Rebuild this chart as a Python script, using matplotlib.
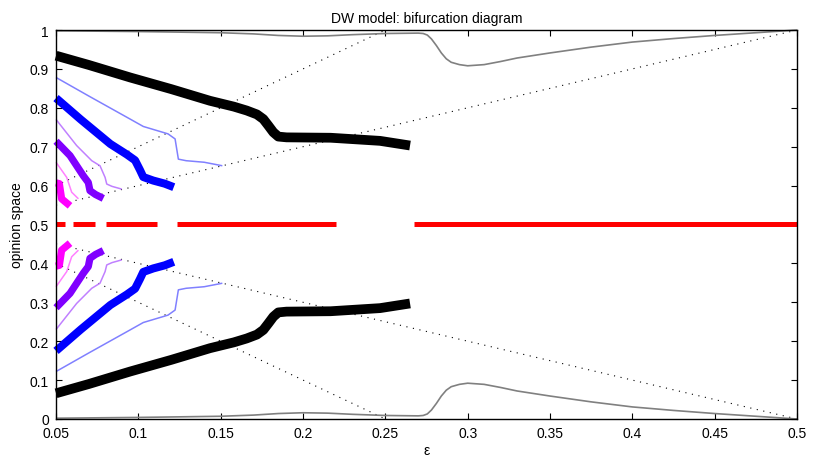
import matplotlib
matplotlib.use("Agg")
import matplotlib.pyplot as plt

plt.rcParams['font.family'] = ['Liberation Sans', 'DejaVu Sans']

# stable branches: (epsilon, opinion) pairs, upper and lower halves
black_eps = [0.05, 0.07, 0.095, 0.12, 0.1435, 0.158, 0.1658, 0.172, 0.1759, 0.179, 0.182, 0.185, 0.19, 0.2168, 0.2468, 0.265]
black_up = [0.934, 0.910, 0.878, 0.848, 0.818, 0.803, 0.793, 0.783, 0.771, 0.754, 0.737, 0.726, 0.724, 0.723, 0.715, 0.703]
black_lo = [0.066, 0.090, 0.122, 0.152, 0.182, 0.197, 0.207, 0.217, 0.229, 0.246, 0.263, 0.274, 0.276, 0.277, 0.285, 0.297]

blue_eps = [0.05, 0.065, 0.083, 0.093, 0.098, 0.101, 0.103, 0.109, 0.116, 0.1215]
blue_up = [0.825, 0.770, 0.707, 0.680, 0.665, 0.640, 0.622, 0.613, 0.605, 0.596]
blue_lo = [0.175, 0.230, 0.293, 0.320, 0.335, 0.360, 0.378, 0.387, 0.395, 0.404]

ltblue_eps = [0.05, 0.07, 0.095, 0.103, 0.118, 0.1223, 0.1243, 0.129, 0.14, 0.151]
ltblue_up = [0.878, 0.830, 0.771, 0.752, 0.733, 0.720, 0.668, 0.664, 0.660, 0.651]
ltblue_lo = [0.122, 0.170, 0.229, 0.248, 0.267, 0.280, 0.332, 0.336, 0.340, 0.349]

purple_eps = [0.05, 0.0585, 0.0666, 0.0696, 0.0706, 0.074, 0.0787]
purple_up = [0.714, 0.677, 0.625, 0.608, 0.587, 0.577, 0.567]
purple_lo = [0.286, 0.323, 0.375, 0.392, 0.413, 0.423, 0.433]

ltpurple_eps = [0.05, 0.0625, 0.0717, 0.0767, 0.0798, 0.0808, 0.084, 0.0899]
ltpurple_up = [0.770, 0.703, 0.664, 0.651, 0.621, 0.604, 0.598, 0.591]
ltpurple_lo = [0.230, 0.297, 0.336, 0.349, 0.379, 0.396, 0.402, 0.409]

magenta_eps = [0.05, 0.052, 0.0534, 0.0585]
magenta_up = [0.607, 0.605, 0.566, 0.548]
magenta_lo = [0.393, 0.395, 0.434, 0.452]

ltmagenta_eps = [0.05, 0.0565, 0.0595, 0.0636]
ltmagenta_up = [0.660, 0.621, 0.583, 0.566]
ltmagenta_lo = [0.340, 0.379, 0.417, 0.434]

# outermost (minor) clusters
gray_eps = [0.05, 0.1, 0.15, 0.17, 0.185, 0.2, 0.215, 0.23, 0.25, 0.27, 0.273,
            0.2755, 0.278, 0.281, 0.284, 0.287, 0.29, 0.295, 0.3, 0.31, 0.32,
            0.33, 0.35, 0.375, 0.4, 0.425, 0.45, 0.475, 0.5]
gray_up = [0.998, 0.996, 0.993, 0.990, 0.986, 0.984, 0.985, 0.988, 0.991, 0.992, 0.991,
           0.987, 0.977, 0.960, 0.941, 0.926, 0.917, 0.911, 0.908, 0.911, 0.919,
           0.928, 0.941, 0.956, 0.969, 0.978, 0.986, 0.993, 1.0]
gray_lo = [0.002, 0.004, 0.007, 0.010, 0.014, 0.016, 0.015, 0.012, 0.009, 0.008, 0.009,
           0.013, 0.023, 0.040, 0.059, 0.074, 0.083, 0.089, 0.092, 0.089, 0.081,
           0.072, 0.059, 0.044, 0.031, 0.022, 0.014, 0.007, 0.0]

# central cluster, shown only where it is stable
center_start = [0.05, 0.0603, 0.0804, 0.1235, 0.2674]
center_end = [0.0555, 0.0737, 0.1113, 0.220, 0.5]
center_y = 0.5

# bifurcation boundaries 0.5 +/- eps and 0.5 +/- 2 eps
bound1_eps = [0.05, 0.5]
bound1_up = [0.55, 1.0]
bound1_lo = [0.45, 0.0]
bound2_eps = [0.05, 0.25]
bound2_up = [0.60, 1.0]
bound2_lo = [0.40, 0.0]

xticks = [0.05, 0.1, 0.15, 0.2, 0.25, 0.3, 0.35, 0.4, 0.45, 0.5]
xtick_labels = ['0.05', '0.1', '0.15', '0.2', '0.25', '0.3', '0.35', '0.4', '0.45', '0.5']
yticks = [0, 0.1, 0.2, 0.3, 0.4, 0.5, 0.6, 0.7, 0.8, 0.9, 1]
ytick_labels = ['0', '0.1', '0.2', '0.3', '0.4', '0.5', '0.6', '0.7', '0.8', '0.9', '1']

fig = plt.figure(figsize=(8.18, 4.6), dpi=100)
ax = fig.add_axes([0.0685, 0.087, 0.9058, 0.8456])

dot = dict(color='black', linestyle=(0, (1, 5)), linewidth=0.8)
for eps, up, lo in [(bound1_eps, bound1_up, bound1_lo), (bound2_eps, bound2_up, bound2_lo)]:
    ax.plot(eps, up, **dot)
    ax.plot(eps, lo, **dot)

branches = [
    (gray_eps, gray_up, gray_lo, '#808080', 1.2),
    (ltblue_eps, ltblue_up, ltblue_lo, '#8080ff', 1.1),
    (ltpurple_eps, ltpurple_up, ltpurple_lo, '#c080ff', 1.1),
    (ltmagenta_eps, ltmagenta_up, ltmagenta_lo, '#ff80ff', 1.1),
    (black_eps, black_up, black_lo, 'black', 7.0),
    (blue_eps, blue_up, blue_lo, '#0000ff', 5.8),
    (purple_eps, purple_up, purple_lo, '#8000ff', 5.2),
    (magenta_eps, magenta_up, magenta_lo, '#ff00ff', 5.2),
]
for eps, up, lo, col, lw in branches:
    for ys in (up, lo):
        ax.plot(eps, ys, color=col, linewidth=lw, solid_capstyle='butt',
                solid_joinstyle='round', clip_on=False)

for x0, x1 in zip(center_start, center_end):
    ax.plot([x0, x1], [center_y, center_y], color='red', linewidth=3.6,
            solid_capstyle='butt')

ax.set_xlim(0.05, 0.5)
ax.set_ylim(0, 1)
ax.set_xticks(xticks)
ax.set_xticklabels(xtick_labels)
ax.set_yticks(yticks)
ax.set_yticklabels(ytick_labels)
ax.tick_params(direction='in', top=True, right=True, length=4, width=0.8,
               labelsize=10, pad=5)
for s in ax.spines.values():
    s.set_linewidth(1.0)

ax.set_title('DW model: bifurcation diagram', fontsize=10, pad=6)
ax.set_xlabel('ε', fontsize=10, labelpad=2)
ax.set_ylabel('opinion space', fontsize=10, labelpad=4)

fig.savefig('out.png', dpi=100)
